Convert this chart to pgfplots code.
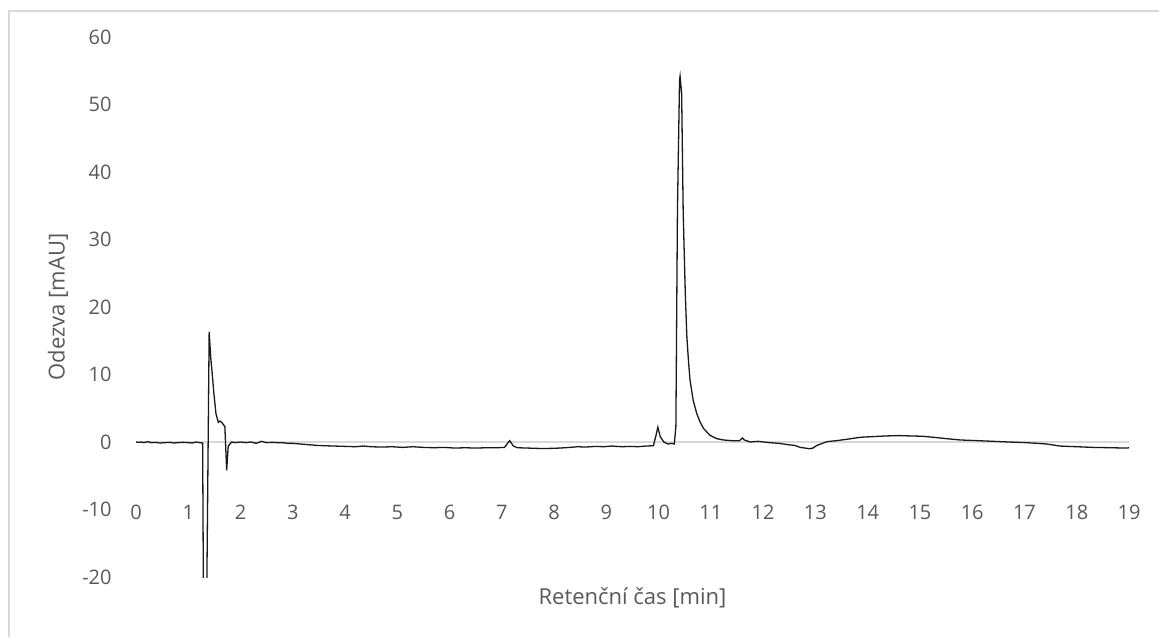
\documentclass[border=0pt]{standalone}
\usepackage{fontspec}
\setmainfont{Open Sans}
\usepackage{pgfplots}
\pgfplotsset{compat=1.18}
\definecolor{txt}{HTML}{595959}
\definecolor{zl}{HTML}{D9D9D9}
\begin{document}
\begin{tikzpicture}
\useasboundingbox (0,0) rectangle (579.5pt,318.5pt);
\begin{axis}[
  at={(68pt,30pt)}, anchor=south west,
  scale only axis, width=496.5pt, height=270pt,
  xmin=0, xmax=19, ymin=-20, ymax=60,
  xtick={0,1,...,19}, ytick={-20,-10,...,60},
  axis line style={draw=none},
  major tick length=0pt,
  /pgf/number format/assume math mode=true,
  tick label style={font=\fontsize{10}{12}\selectfont, text=txt},
  yticklabel style={anchor=east, inner sep=0pt, xshift=-12pt},
  xticklabel style={anchor=center, inner sep=0pt, yshift=32.5pt},
  xlabel={Retenční čas [min]},
  ylabel={Odezva [mAU]},
  label style={font=\fontsize{11}{13}\selectfont, text=txt},
  xlabel style={at={(axis description cs:0.5,-0.0389)}, anchor=center},
  ylabel style={at={(axis description cs:-0.0786,0.5)}, anchor=center},
  clip=true,
]
\addplot[draw=zl, line width=0.8pt] coordinates {(0,0) (19,0)};
\addplot[black!90, line width=0.65pt] coordinates {
(0.00,0.0)(0.05,-0.05)(0.10,0.0)(0.15,-0.1)(0.22,0.05)(0.30,-0.1)(0.38,-0.05)(0.45,-0.15)
(0.55,-0.1)(0.65,-0.05)(0.72,-0.15)(0.80,-0.1)(0.90,-0.05)(1.00,-0.1)(1.08,-0.15)(1.15,0.0)
(1.22,-0.1)(1.275,-0.15)(1.295,-30)(1.345,-30)(1.40,16.3)(1.43,12.5)(1.46,10)(1.49,7.2)(1.53,4.2)(1.575,2.9)
(1.61,3.1)(1.64,2.9)(1.70,2.3)(1.735,-4.2)(1.765,-0.6)(1.83,0.0)(1.90,-0.1)(2.00,0.0)(2.10,-0.1)
(2.20,0.0)(2.30,-0.2)(2.40,0.1)(2.50,-0.1)(2.60,-0.05)(2.70,-0.1)(2.80,-0.1)(2.90,-0.2)
(3.00,-0.2)(3.15,-0.3)(3.30,-0.4)(3.45,-0.5)(3.60,-0.55)(3.80,-0.6)(4.00,-0.65)(4.20,-0.7)
(4.35,-0.6)(4.50,-0.7)(4.70,-0.75)(4.90,-0.7)(5.10,-0.8)(5.30,-0.7)(5.50,-0.8)(5.70,-0.85)
(5.90,-0.8)(6.10,-0.9)(6.30,-0.85)(6.50,-0.9)(6.70,-0.85)(6.90,-0.85)(7.05,-0.8)(7.15,0.2)
(7.22,-0.6)(7.30,-0.85)(7.50,-0.9)(7.70,-0.95)(7.90,-0.95)(8.10,-0.9)(8.30,-0.8)(8.45,-0.7)
(8.60,-0.75)(8.80,-0.65)(8.95,-0.7)(9.10,-0.6)(9.30,-0.7)(9.45,-0.65)(9.60,-0.7)(9.75,-0.6)
(9.90,-0.55)(9.95,1.0)(9.985,2.2)(10.03,0.8)(10.10,0.0)(10.18,-0.3)(10.25,-0.2)(10.30,-0.3)
(10.33,2.3)(10.36,34.4)(10.40,53.6)(10.41,54.2)(10.44,51.7)(10.47,33.9)(10.51,22)(10.54,15.6)
(10.57,12.1)(10.60,9.2)(10.66,6.2)(10.73,4.2)(10.79,3.0)(10.86,2.0)(10.98,1.0)(11.11,0.5)
(11.24,0.3)(11.40,0.2)(11.55,0.2)(11.60,0.6)(11.64,0.3)(11.75,0.0)(11.90,0.1)(12.13,-0.1)
(12.30,-0.2)(12.48,-0.4)(12.60,-0.5)(12.71,-0.8)(12.89,-1.0)(12.95,-0.9)(13.03,-0.5)(13.22,0.05)
(13.40,0.2)(13.60,0.4)(13.86,0.7)(14.10,0.8)(14.36,0.9)(14.60,0.95)(14.81,0.9)(15.05,0.85)
(15.26,0.7)(15.50,0.5)(15.77,0.3)(16.10,0.2)(16.40,0.1)(16.70,0.0)(17.04,-0.1)(17.25,-0.2)
(17.43,-0.3)(17.68,-0.6)(18.00,-0.7)(18.32,-0.8)(18.65,-0.85)(18.96,-0.9)(19.00,-0.85)
};
\end{axis}
\draw[zl, line width=0.8pt] (4.5pt,0) -- (4.5pt,313pt) -- (579.5pt,313pt);
\end{tikzpicture}
\end{document}
